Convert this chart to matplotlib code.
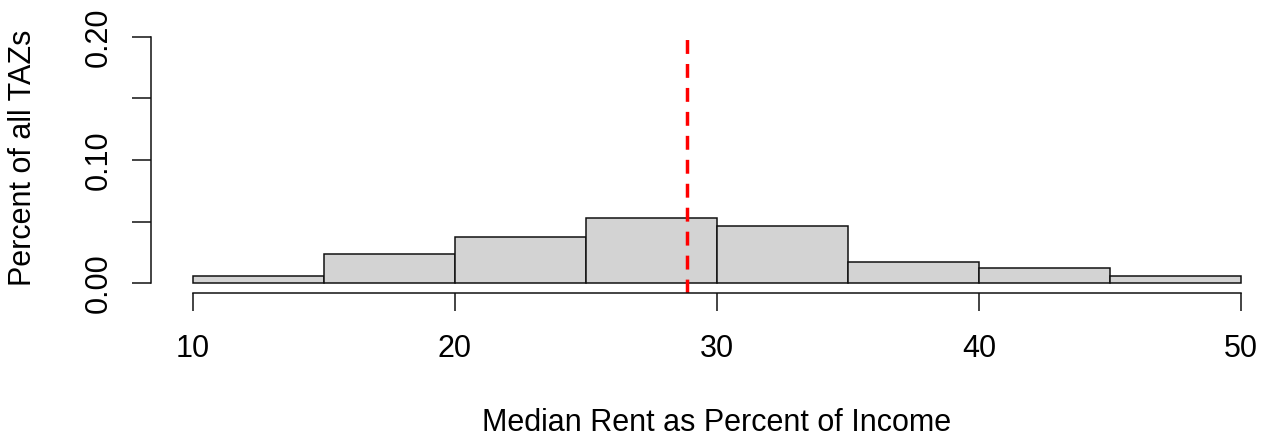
import matplotlib
matplotlib.use("Agg")
import matplotlib.pyplot as plt

# Data
bin_edges = [10, 15, 20, 25, 30, 35, 40, 45, 50]
density = [0.0057, 0.0236, 0.0371, 0.0525, 0.0463, 0.0171, 0.0120, 0.0057]
median_value = 28.85
x_ticks = [10, 20, 30, 40, 50]
y_ticks = [0.00, 0.05, 0.10, 0.15, 0.20]
y_tick_labels = ["0.00", "", "0.10", "", "0.20"]
x_label = "Median Rent as Percent of Income"
y_label = "Percent of all TAZs"

plt.rcParams['font.family'] = ['Liberation Sans', 'DejaVu Sans']

W, H = 1266, 441
fig = plt.figure(figsize=(W / 100, H / 100), dpi=100)

# plot region in pixels
px_per_unit = 1048 / 40.0
left_px = 193 - 1.6 * px_per_unit
right_px = W
top_px, bot_px = 27, 293
ax = fig.add_axes([left_px / W, (H - bot_px) / H, (right_px - left_px) / W, (bot_px - top_px) / H])
ax.set_xlim(8.4, 8.4 + (right_px - left_px) / px_per_unit)
ax.set_ylim(-0.008, 0.208)
ax.patch.set_visible(False)

lefts = bin_edges[:-1]
widths = [b - a for a, b in zip(bin_edges[:-1], bin_edges[1:])]
ax.bar(lefts, density, width=widths, align='edge', color='#D3D3D3',
       edgecolor='#111111', linewidth=1.1)

ax.axvline(median_value, ymin=0, ymax=0.985, color='red', linewidth=2.5, dashes=(4, 2.9))

for s in ['top', 'right']:
    ax.spines[s].set_visible(False)
ax.spines['left'].set_bounds(0, 0.2)
ax.spines['bottom'].set_bounds(10, 50)
for s in ['left', 'bottom']:
    ax.spines[s].set_linewidth(1.1)
    ax.spines[s].set_color('#111111')

ax.set_xticks(x_ticks)
ax.set_xticklabels([str(t) for t in x_ticks])
ax.set_yticks(y_ticks)
ax.set_yticklabels(y_tick_labels, rotation=90, va='center')
ax.tick_params(axis='x', direction='out', length=13.3, width=1.1, color='#111111', pad=16, labelsize=22)
ax.tick_params(axis='y', direction='out', length=13.7, width=1.1, color='#111111', pad=13, labelsize=22)

fig.text(717 / W, 1 - 423 / H, x_label, ha='center', va='center', fontsize=22)
fig.text(23 / W, 1 - 158 / H, y_label, ha='center', va='center', rotation=90, fontsize=22)

fig.savefig("out.png", dpi=100)
